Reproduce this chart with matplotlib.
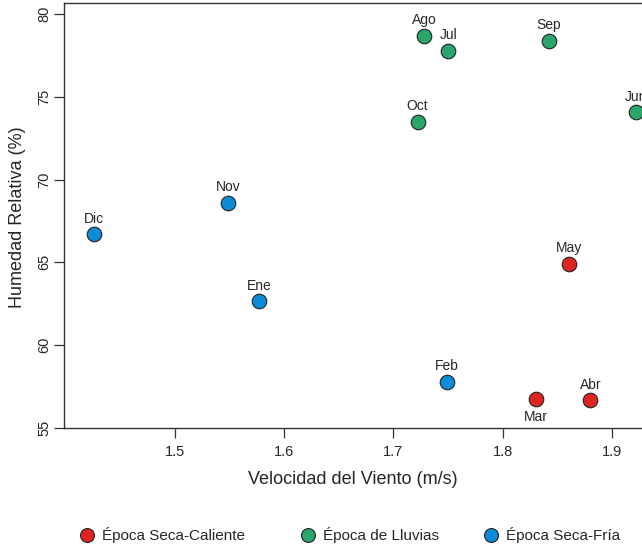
import numpy as np
import matplotlib
matplotlib.use('Agg')
import matplotlib.pyplot as plt
from matplotlib.lines import Line2D

plt.rcParams['font.family'] = ['Liberation Sans', 'DejaVu Sans']

# Datos mensuales
meses = ['Ene', 'Feb', 'Mar', 'Abr', 'May', 'Jun', 'Jul', 'Ago', 'Sep', 'Oct', 'Nov', 'Dic']
viento = [1.577, 1.749, 1.830, 1.880, 1.860, 1.922, 1.750, 1.728, 1.842, 1.722, 1.549, 1.426]
humedad = [62.67, 57.80, 56.78, 56.67, 64.93, 74.08, 77.78, 78.69, 78.39, 73.49, 68.60, 66.69]
epoca = ['fria', 'fria', 'caliente', 'caliente', 'caliente', 'lluvias', 'lluvias', 'lluvias',
         'lluvias', 'lluvias', 'fria', 'fria']

epocas = ['caliente', 'lluvias', 'fria']
nombres = ['Época Seca-Caliente', 'Época de Lluvias', 'Época Seca-Fría']
colores = {'caliente': '#DD2420', 'lluvias': '#2BA66B', 'fria': '#0C8BD8'}

texto = '#262626'

fig = plt.figure(figsize=(6.42, 5.5), dpi=100)
# el eje se extiende mas alla del borde derecho (figura recortada)
x0, x1 = 64, 680
ax = fig.add_axes([x0 / 642, 122 / 550, (x1 - x0) / 642, 425 / 550])

for ep in epocas:
    idx = [i for i, e in enumerate(epoca) if e == ep]
    ax.scatter([viento[i] for i in idx], [humedad[i] for i in idx], s=110,
               color=colores[ep], edgecolor='#222222', linewidth=0.8, zorder=3)

for i, m in enumerate(meses):
    if m == 'Mar':
        ax.annotate(m, (viento[i], humedad[i]), xytext=(0, -8), textcoords='offset points',
                    ha='center', va='top', fontsize=10, color=texto)
    else:
        ax.annotate(m, (viento[i], humedad[i]), xytext=(0, 6), textcoords='offset points',
                    ha='center', va='bottom', fontsize=10, color=texto)

ax.set_xlim(1.399, 1.5 + (x1 - 174.3) / 1095)
ax.set_ylim(55, 80.66)
ax.set_xticks([1.5, 1.6, 1.7, 1.8, 1.9])
ax.set_yticks([55, 60, 65, 70, 75, 80])
ax.set_xticklabels(['1.5', '1.6', '1.7', '1.8', '1.9'])
ax.set_yticklabels(['55', '60', '65', '70', '75', '80'], rotation=90, va='center')

ax.tick_params(axis='both', direction='out', length=7, width=0.9, color='#333333',
               labelsize=10.5, labelcolor=texto)
ax.tick_params(axis='x', pad=5)
ax.tick_params(axis='y', pad=2)
for sp in ax.spines.values():
    sp.set_color('#333333')
    sp.set_linewidth(1.0)

ax.set_xlabel('Velocidad del Viento (m/s)', fontsize=13, color=texto)
ax.set_ylabel('Humedad Relativa (%)', fontsize=13, color=texto)
ax.xaxis.set_label_coords((353 - x0) / (x1 - x0), -(471 - 428) / 425)
ax.yaxis.set_label_coords(-(64 - 26) / (x1 - x0), (428 - 217) / 425)

# leyenda: una entrada por epoca, en fila
anclas = [79.4, 300.4, 483.4]
for ep, nom, xa in zip(epocas, nombres, anclas):
    h = Line2D([], [], marker='o', linestyle='none', markersize=10,
               markerfacecolor=colores[ep], markeredgecolor='#222222', markeredgewidth=0.8)
    fig.legend([h], [nom], loc='center left', bbox_to_anchor=(xa / 642, 15 / 550),
               frameon=False, fontsize=11, handlelength=1.0, handletextpad=0.5,
               borderaxespad=0, borderpad=0, labelcolor=texto)

fig.savefig('out.png', dpi=100)
